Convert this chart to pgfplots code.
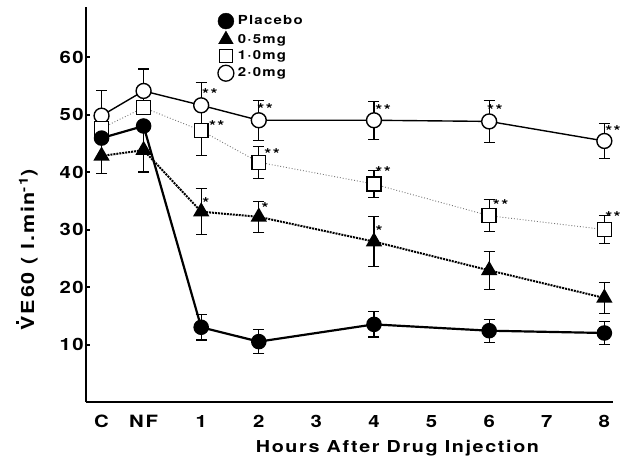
\documentclass[border=0pt]{standalone}
\usepackage{fontspec}
\setmainfont{TeX Gyre Heros}[FakeStretch=1.2, LetterSpace=10]
\usepackage{pgfplots}
\usepackage{pgfplotstable}
\pgfplotsset{compat=1.18}
\pgfplotstableread{
x y e
-0.73 45.9 0
0 48.0 0
1 13.0 2.2
2 10.5 2.1
4 13.5 2.2
6 12.4 2.0
8 12.0 2.0
}\placebo
\pgfplotstableread{
x y e
-0.73 42.8 3.0
0 43.8 3.8
1 33.1 4.0
2 32.2 2.7
4 27.9 4.3
6 22.9 3.3
8 18.1 2.7
}\halfmg
\pgfplotstableread{
x y e
-0.73 47.6 0
0 51.2 0
1 47.2 4.3
2 41.7 2.8
4 37.9 2.3
6 32.4 2.8
8 30.0 2.5
}\onemg
\pgfplotstableread{
x y e
-0.73 49.8 4.4
0 54.1 3.8
1 51.6 3.9
2 49.0 3.5
4 49.0 3.3
6 48.8 3.6
8 45.4 3.0
}\twomg
\pgfplotstableread{
x y s
1.15 53.9 **
2.11 51.3 **
4.16 51.2 **
6.10 51.2 **
8.15 47.5 **
1.27 48.4 **
2.23 43.5 **
4.16 40.3 **
6.20 34.6 **
8.15 32.6 **
1.08 34.9 *
2.11 34.0 *
4.09 30.0 *
}\stars
\pgfplotsset{eb/.style={error bars/.cd, y dir=both, y explicit,
  error bar style={line width=1.2pt,black,solid},
  error mark options={rotate=90,mark size=5.5pt,line width=1.2pt,solid,black}}}
\newcommand{\Vdot}{{\setbox0\hbox{V}\rlap{\hbox to \wd0{\hss\raisebox{0.84em}{\rule{0.17em}{0.17em}}\hss}}V}}
\begin{document}
\begin{tikzpicture}
\begin{axis}[
  width=527bp, height=395bp, scale only axis,
  xmin=-1, xmax=8.15, ymin=0, ymax=68.7,
  axis x line=bottom, axis y line=left,
  axis line style={line width=3pt, -},
  xtick={-0.73,0,1,2,3,4,5,6,7,8},
  xticklabels={C,NF,1,2,3,4,5,6,7,8},
  ytick={10,20,30,40,50,60},
  major x tick style={draw=none},
  major y tick style={line width=2pt, black},
  tick align=inside, major tick length=4pt,
  /pgf/number format/assume math mode=true,
  ticklabel style={font=\bfseries\fontsize{17}{17}\selectfont},
  yticklabel style={inner sep=0pt, xshift=-2pt},
  xticklabel style={anchor=base, yshift=-25bp},
  xlabel={Hours After Drug Injection},
  xlabel style={font=\bfseries\fontsize{16.5}{17}\selectfont, at={(axis description cs:0.591,-0.127)}, anchor=base},
  ylabel={\Vdot E60 ( l.min\textsuperscript{-1})},
  ylabel style={font=\bfseries\fontsize{18}{18}\selectfont, at={(axis description cs:-0.112,0.385)}, anchor=center},
  clip=false,
  legend style={draw=none, fill=none, at={(axis description cs:0.25,0.985)}, anchor=north west,
    font=\bfseries\fontsize{12.5}{13}\selectfont, row sep=2pt, inner sep=0pt},
  legend cell align=left,
  legend image code/.code={\draw[#1] plot coordinates {(0pt,0pt)}; \path[draw=none,fill=none] (-8pt,-1pt) rectangle (10pt,1pt);},
]
\addlegendimage{only marks, mark=*, mark size=8pt, black}
\addlegendentry{Placebo}
\addlegendimage{only marks, mark=triangle*, mark size=8.5pt, black}
\addlegendentry{0·5mg}
\addlegendimage{only marks, mark=square*, mark size=6.5pt, black, mark options={fill=white, line width=1.3pt}}
\addlegendentry{1·0mg}
\addlegendimage{only marks, mark=*, mark size=8pt, black, mark options={fill=white, line width=1.3pt}}
\addlegendentry{2·0mg}

\addplot[forget plot, black, line width=1.4pt, mark=*, mark size=7.5pt, mark options={fill=white, solid, line width=1.4pt}, eb]
  table[x=x, y=y, y error=e] {\twomg};
\addplot[forget plot, black!55, line width=0.9pt, dotted, mark=square*, mark size=7pt, mark options={fill=white, draw=black, solid, line width=1.4pt}, eb]
  table[x=x, y=y, y error=e] {\onemg};
\addplot[forget plot, black, line width=2pt, densely dotted, mark=triangle*, mark size=7.5pt, mark options={fill=black, solid}, eb]
  table[x=x, y=y, y error=e] {\halfmg};
\addplot[forget plot, black, line width=2.2pt, mark=*, mark size=6.7pt, mark options={fill=black, solid}, eb]
  table[x=x, y=y, y error=e] {\placebo};
\addplot[forget plot, draw=none, nodes near coords, point meta=explicit symbolic,
  nodes near coords style={font=\bfseries\fontsize{15}{15}\selectfont, anchor=center, inner sep=0pt, yshift=-2pt}]
  table[x=x, y=y, meta=s] {\stars};
\end{axis}
\path (current axis.south west) ++(-86bp,-66bp) rectangle ++(626bp,468bp);
\end{tikzpicture}
\end{document}
